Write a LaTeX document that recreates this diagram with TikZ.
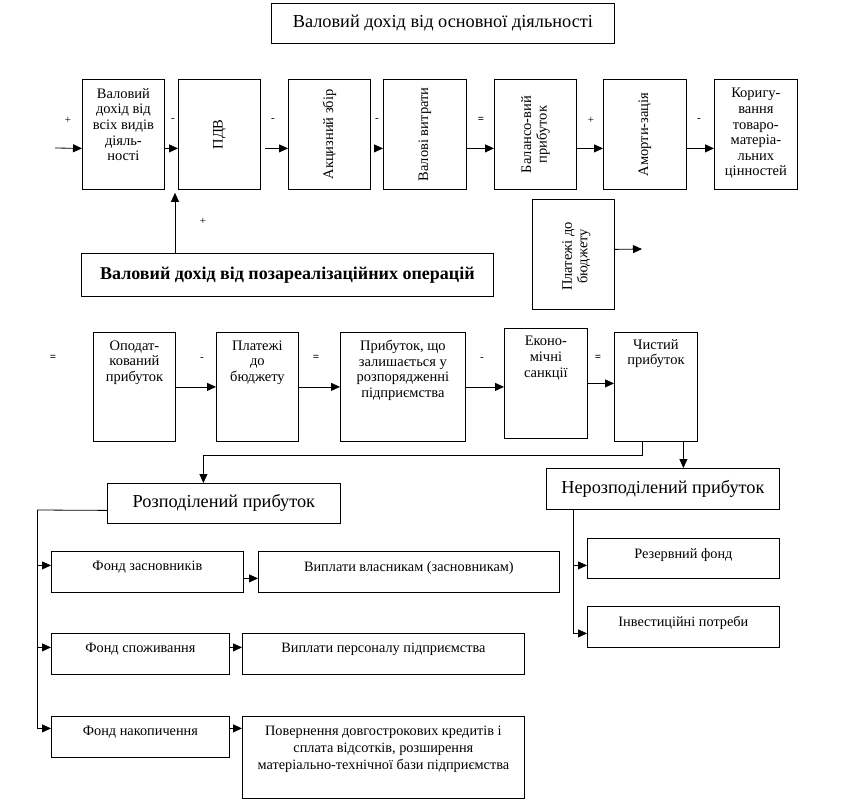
\documentclass[tikz,border=0pt]{standalone}
\usepackage{fontspec}
\setmainfont{Liberation Serif}
\usetikzlibrary{arrows.meta,positioning}

\begin{document}
\begin{tikzpicture}
[x=1pt,y=1pt,>={Triangle[length=9pt,width=8pt]},->,line width=0.8pt,
 box/.style={draw=black,rectangle,inner sep=0pt,anchor=north west,font=\fontsize{18.3}{18.3}\selectfont},
 txt/.style={inner sep=0pt,align=center,font=\fontsize{14.5}{15.6}\selectfont},
 sign/.style={inner sep=0pt,font=\fontsize{11}{11}\selectfont}]
\useasboundingbox (0,0) rectangle (847,-811);

% title
\node[box,minimum width=343,minimum height=40] (title) at (271,-3) {Валовий дохід від основної діяльності};

% first chain
\node[box,minimum width=82,minimum height=110] (gross) at (82,-79) {};
\node[box,minimum width=82,minimum height=110] (pdv) at (178,-79) {};
\node[box,minimum width=82,minimum height=110] (excise) at (288,-79) {};
\node[box,minimum width=83,minimum height=110] (costs) at (383,-79) {};
\node[box,minimum width=82,minimum height=110] (balance) at (494,-79) {};
\node[box,minimum width=83,minimum height=110] (amort) at (603,-79) {};
\node[box,minimum width=83,minimum height=110] (adjust) at (714,-79) {};
\node[txt,below=9pt of gross.north] (grosst) {Валовий\\дохід від\\всіх видів\\діяль-\\ності};
\node[txt,rotate=90] (pdvt) at (pdv) {ПДВ};
\node[txt,rotate=90] (excitet) at (excise) {Акцизний збір};
\node[txt,rotate=90] (costst) at (costs) {Валові витрати};
\node[txt,rotate=90] (balancet) at (balance) {Балансо-вий\\прибуток};
\node[txt,rotate=90] (amortt) at (amort) {Аморти-зація};
\node[txt,below=9pt of adjust.north] (adjustt) {Коригу-\\вання\\товаро-\\матеріа-\\льних\\цінностей};

\coordinate (in) at (55,-148);
\draw (in) -- ([yshift=-14pt]gross.west);
\draw ([yshift=-14pt]gross.east) -- ([yshift=-14pt]pdv.west);
\draw ([xshift=4pt,yshift=-14pt]pdv.east) -- ([yshift=-14pt]excise.west);
\draw ([xshift=8pt,yshift=-14pt]excise.east) -- ([yshift=-14pt]costs.west);
\draw ([yshift=-14pt]costs.east) -- ([yshift=-14pt]balance.west);
\draw ([yshift=-14pt]balance.east) -- ([yshift=-14pt]amort.west);
\draw ([yshift=-14pt]amort.east) -- ([yshift=-14pt]adjust.west);

% non-operating income
\node[box,minimum width=412,minimum height=43,font=\fontsize{18}{18}\selectfont\bfseries] (nonop) at (81,-253) {Валовий дохід від позареалізаційних операцій};
\coordinate (pdvin) at ([xshift=-3pt,yshift=-3pt]pdv.south west);
\draw (nonop.north -| pdvin) -- (pdvin);

% payments to budget
\node[box,minimum width=82,minimum height=110] (budget) at (532,-199) {};
\node[txt,rotate=90] (budgett) at ([xshift=3pt,yshift=-2pt]budget.center) {Платежі до\\бюджету};
\coordinate (out) at (642,-249);
\draw ([yshift=5pt]budget.east) -- (out);

% second chain
\node[box,minimum width=82,minimum height=109] (taxed) at (93,-332) {};
\node[box,minimum width=82,minimum height=109] (pay) at (216,-332) {};
\node[box,minimum width=125,minimum height=109] (left) at (340,-332) {};
\node[box,minimum width=83,minimum height=110] (sanct) at (504,-328) {};
\node[box,minimum width=83,minimum height=109] (net) at (614,-332) {};
\node[txt,below=8pt of taxed.north] (taxedt) {Оподат-\\кований\\прибуток};
\node[txt,below=8pt of pay.north] (payt) {Платежі\\до\\бюджету};
\node[txt,below=8pt of left.north] (leftt) {Прибуток, що\\залишається у\\розпорядженні\\підприємства};
\node[txt,below=8pt of sanct.north] (sanctt) {Еконо-\\мічні\\санкції};
\node[txt,below=7pt of net.north] (nett) {Чистий\\прибуток};
\draw (taxed) -- (pay);
\draw (pay) -- (left);
\draw (left.east) -- (left.east -| sanct.west);
\draw (sanct.east) -- (sanct.east -| net.west);

% signs
\foreach \x/\y/\s [count=\i] in {68/120/+,173/120/-,273/120/-,377/120/-,591/120/+,699/120/-,203/221/+,202/359/-,482/359/-}
  \node[sign] (s\i) at (\x,-\y) {\s};
\foreach \x/\y [count=\i] in {481/120,53/358,316/358,598/358}
  \node[sign,font=\fontsize{11}{11}\selectfont\bfseries] (e\i) at (\x,-\y) {=};

% distribution
\node[box,minimum width=233,minimum height=40] (dist) at (107,-483) {Розподілений прибуток};
\node[box,minimum width=233,minimum height=41] (undist) at (546,-468) {Нерозподілений прибуток};
\draw ([xshift=-13.5pt]net.south) -- ++(0,-14) -| ([xshift=-20.5pt]dist.north);
\draw ([xshift=27.5pt]net.south) -- ([xshift=27.5pt]net.south |- undist.north);

\node[box,minimum width=192,minimum height=41] (founders) at (51,-551) {};
\node[box,minimum width=178,minimum height=41] (consume) at (51,-633) {};
\node[box,minimum width=178,minimum height=41] (accum) at (51,-716) {};
\node[box,minimum width=301,minimum height=41] (owners) at (258,-551) {};
\node[box,minimum width=282,minimum height=41] (staff) at (242,-633) {};
\node[box,minimum width=282,minimum height=82] (credits) at (242,-716) {};
\begin{scope}[every node/.style={txt,font=\fontsize{14.3}{17}\selectfont}]
\node[below=10pt of founders.north] (founderst) {Фонд засновників};
\node[below=10pt of consume.north] (consumet) {Фонд споживання};
\node[below=10pt of accum.north] (accumt) {Фонд накопичення};
\node[below=10pt of owners.north] (ownerst) {Виплати власникам (засновникам)};
\node[below=10pt of staff.north] (stafft) {Виплати персоналу підприємства};
\node[below=10pt of credits.north] (creditst) {Повернення довгострокових кредитів і\\сплата відсотків, розширення\\матеріально-технічної бази підприємства};
\end{scope}

\coordinate (lbus) at (37,-510);
\draw[-] ([yshift=-7pt]dist.west) -- (lbus);
\draw (lbus) |- ([yshift=6.5pt]founders.west);
\draw (lbus) |- ([yshift=6.5pt]consume.west);
\draw (lbus) |- ([yshift=8.5pt]accum.west);
\draw ([yshift=-6.5pt]founders.east) -- ([yshift=-6.5pt]founders.east -| owners.west);
\draw ([yshift=6.5pt]consume.east) -- ([yshift=6.5pt]consume.east -| staff.west);
\draw ([yshift=8.5pt]accum.east) -- ([yshift=8.5pt]accum.east -| credits.west);

\node[box,minimum width=192,minimum height=40] (reserve) at (587,-538) {};
\node[box,minimum width=192,minimum height=41] (invest) at (587,-606) {};
\node[txt,font=\fontsize{14.3}{17}\selectfont,below=10pt of reserve.north] (reservet) {Резервний фонд};
\node[txt,font=\fontsize{14.3}{17}\selectfont,below=10pt of invest.north] (investt) {Інвестиційні потреби};
\coordinate (rbus) at ([xshift=-89.5pt]undist.south);
\draw (rbus) |- ([yshift=-7pt]reserve.west);
\draw (rbus) |- ([yshift=-6.5pt]invest.west);
\end{tikzpicture}
\end{document}
